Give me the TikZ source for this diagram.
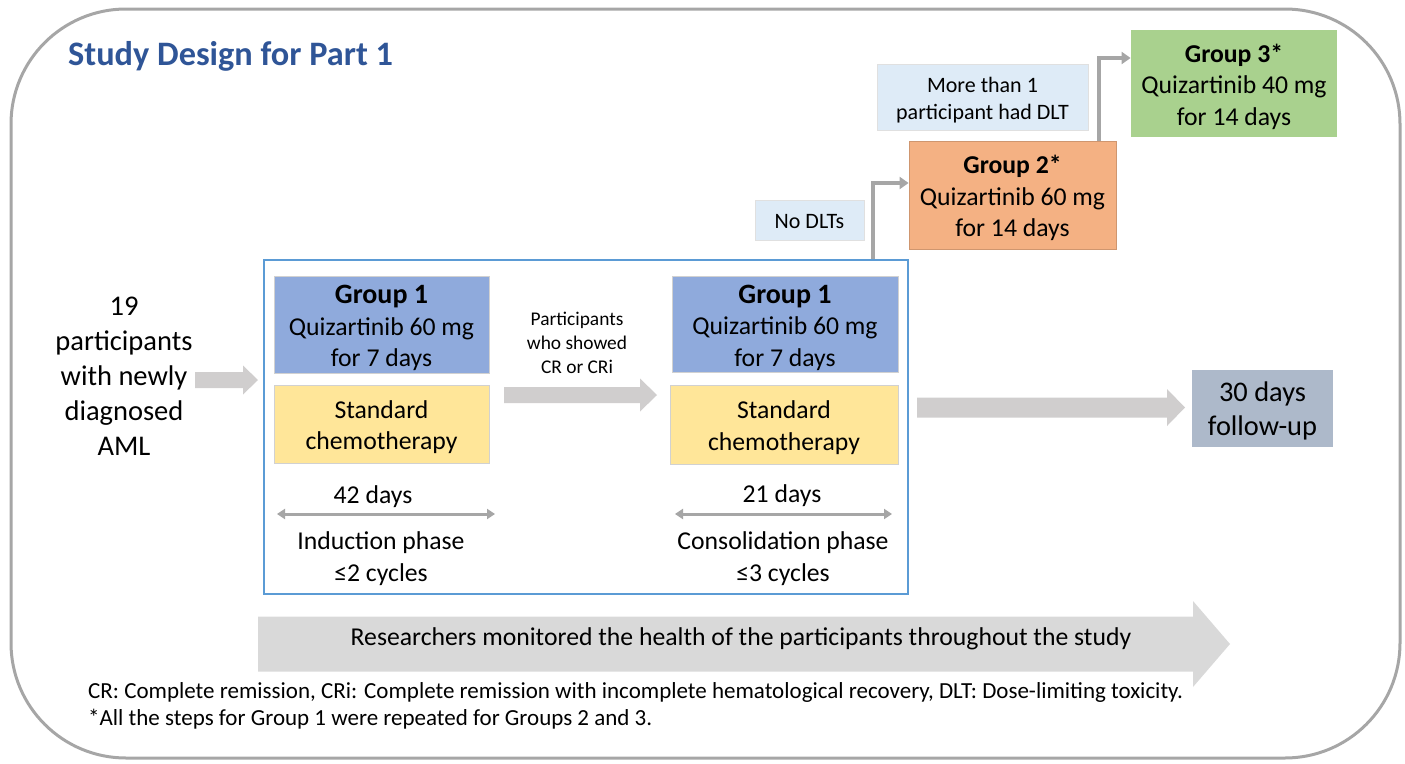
\documentclass[tikz,border=0pt]{standalone}
\usepackage{fontspec}
\setmainfont{Carlito}
\usetikzlibrary{arrows.meta}
\definecolor{framegray}{HTML}{A6A6A6}
\definecolor{titleblue}{HTML}{2F5597}
\definecolor{grpblue}{HTML}{8FAADC}
\definecolor{chemoyel}{HTML}{FFE699}
\definecolor{grporange}{HTML}{F4B183}
\definecolor{grpgreen}{HTML}{A9D18E}
\definecolor{lblblue}{HTML}{DEEBF7}
\definecolor{fupgray}{HTML}{ADB9CA}
\definecolor{arrgray}{HTML}{D0CECE}
\definecolor{arrlight}{HTML}{D9D9D9}
\definecolor{contblue}{HTML}{5B9BD5}
\newcommand\szbox{\fontsize{25.7}{31.5}\selectfont}
\newcommand\szgrp{\fontsize{28}{31.5}\selectfont}
\newcommand\szleft{\fontsize{28.5}{35}\selectfont}
\newcommand\szlbl{\fontsize{22}{27}\selectfont}
\newcommand\szsmall{\fontsize{19.4}{24}\selectfont}
\newcommand\szfoot{\fontsize{23}{27}\selectfont}
\newcommand\szfup{\fontsize{28.4}{34}\selectfont}
\newcommand\sztitle{\fontsize{34.3}{38}\selectfont}
\newcommand\blkarrow[7]{%
  \fill[#7] (#1,{#4-#5}) -- (#2,{#4-#5}) -- (#2,{#4-#6}) -- (#3,#4)
    -- (#2,{#4+#6}) -- (#2,{#4+#5}) -- (#1,{#4+#5}) -- cycle;}
\begin{document}
\begin{tikzpicture}[x=1pt,y=-1pt,
  box/.style={rectangle,inner sep=0pt,draw=black!18,line width=0.8pt},
  plain/.style={inner sep=0pt,align=center},
  lab/.style={inner sep=0pt,align=center,font=\szbox},
  conn/.style={draw=framegray,line width=3.5pt,-{Triangle[length=9pt,width=12pt]}},
  span/.style={draw=framegray,line width=3pt,{Triangle[length=8pt,width=10pt]}-{Triangle[length=8pt,width=10pt]}}]
\useasboundingbox (0,0) rectangle (1405,763);
% outer frame
\draw[framegray,line width=3pt,rounded corners=115pt] (11,9) rectangle (1400,758);
% title
\node[plain,anchor=base west,text=titleblue,font=\sztitle\bfseries] (title) at (68,65) {Study Design for Part 1};
% container
\node[rectangle,draw=contblue,line width=1.5pt,fill=white,minimum width=644pt,minimum height=334pt] (cont) at (586,427) {};
% block arrows
\blkarrow{195}{243}{258}{380}{8}{14.5}{arrgray}
\blkarrow{504}{640}{657}{395}{8}{16.5}{arrgray}
\blkarrow{917}{1167}{1185}{407.5}{10}{18.5}{arrgray}
\blkarrow{258}{1193}{1230}{644}{27.5}{43}{arrlight}
% left text
\node[plain,font=\szleft] (start) at (124,376) {19\\participants\\with newly\\diagnosed\\AML};
% boxes
\node[box,fill=grpblue,minimum width=215pt,minimum height=97pt] (g1l) at (381.5,324.5) {};
\node[lab] (g1ltx) at ([yshift=-3.5pt]g1l.center) {{\szgrp\bfseries Group 1}\\Quizartinib 60 mg\\for 7 days};
\node[box,fill=chemoyel,minimum width=215pt,minimum height=78pt] (chl) at (381.5,424) {};
\node[lab] (chltx) at ([yshift=-3pt]chl.center) {Standard\\chemotherapy};
\node[box,fill=grpblue,minimum width=226pt,minimum height=96pt] (g1r) at (785,324) {};
\node[lab] (g1rtx) at ([yshift=-3.5pt]g1r.center) {{\szgrp\bfseries Group 1}\\Quizartinib 60 mg\\for 7 days};
\node[box,fill=chemoyel,minimum width=228pt,minimum height=79pt] (chr) at (784,424.5) {};
\node[lab] (chrtx) at ([yshift=-3pt]chr.center) {Standard\\chemotherapy};
\node[plain,font=\szsmall] (crlbl) at (577,343) {Participants\\who showed\\CR or CRi};
% phase labels
\node[lab] (d42) at (373,497) {42 days};
\coordinate (s1a) at (277,514);
\coordinate (s1b) at (495,514);
\draw[span] (s1a) -- (s1b);
\node[lab] (ind) at (381,558.5) {Induction phase\\≤2 cycles};
\node[lab] (d21) at (782,496) {21 days};
\coordinate (s2a) at (675,514);
\coordinate (s2b) at (892,514);
\draw[span] (s2a) -- (s2b);
\node[lab] (cons) at (783,558.5) {Consolidation phase\\≤3 cycles};
% follow-up
\node[box,fill=fupgray,draw=none,minimum width=141pt,minimum height=77pt] (fup) at (1262.5,408.5) {};
\node[plain,font=\szfup] (fuptx) at ([yshift=-2pt]fup.center) {30 days\\follow-up};
% escalation
\node[box,fill=lblblue,draw=black!12,minimum width=109pt,minimum height=40pt] (nodlt) at (809.5,220) {};
\node[plain,font=\szlbl] (nodlttx) at ([yshift=-2pt]nodlt.center) {No DLTs};
\node[box,fill=grporange,draw=grporange!85!black,minimum width=207pt,minimum height=108pt] (g2) at (1012.5,195) {};
\node[lab] (g2tx) at ([yshift=-3pt]g2.center) {{\bfseries Group 2*}\\Quizartinib 60 mg\\for 14 days};
\node[box,fill=lblblue,draw=black!12,minimum width=211pt,minimum height=66pt] (more) at (982.5,97) {};
\node[plain,font=\szlbl] (moretx) at ([yshift=-3pt]more.center) {More than 1\\participant had DLT};
\node[box,fill=grpgreen,draw=none,minimum width=206pt,minimum height=107pt] (g3) at (1234,83.5) {};
\node[lab] (g3tx) at ([yshift=-3pt]g3.center) {{\bfseries Group 3*}\\Quizartinib 40 mg\\for 14 days};
\draw[conn] (cont.north -| 873,0) |- ([yshift=12pt]g2.west);
\draw[conn] (g2.north -| 1099,0) |- ([yshift=25.5pt]g3.west);
% bottom arrow text
\node[lab] (monitor) at (741,639) {Researchers monitored the health of the participants throughout the study};
% footnote
\node[plain,align=left,anchor=north west,font=\szfoot] (foot) at (88,682)
  {CR: Complete remission, CRi: Complete remission with incomplete hematological recovery, DLT: Dose-limiting toxicity.\\*All the steps for Group 1 were repeated for Groups 2 and 3.};
\end{tikzpicture}
\end{document}
